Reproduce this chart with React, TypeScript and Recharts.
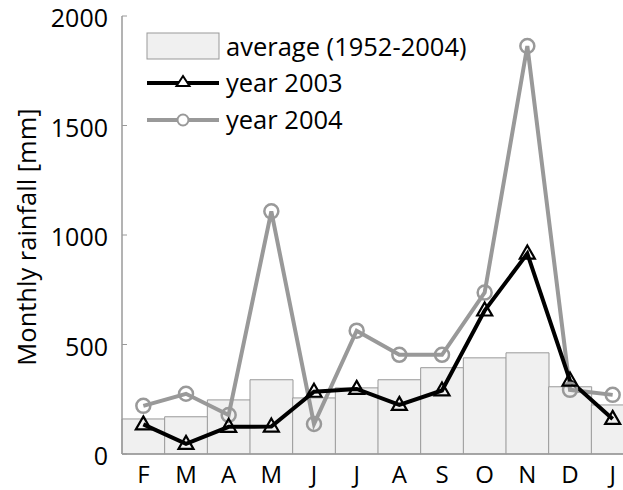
import React from 'react';
import { ComposedChart, Bar, Line, XAxis, YAxis } from 'recharts';

const months = ['F', 'M', 'A', 'M', 'J', 'J', 'A', 'S', 'O', 'N', 'D', 'J'];
const average = [160, 170, 247, 339, 256, 302, 339, 394, 439, 462, 307, 224];
const year2003 = [135, 46, 124, 125, 284, 297, 224, 290, 655, 915, 335, 160];
const year2004 = [220, 275, 178, 1108, 137, 563, 453, 453, 737, 1863, 293, 270];
const yTicks = [0, 500, 1000, 1500, 2000];
const seriesNames = ['average (1952-2004)', 'year 2003', 'year 2004'];
const yTitle = 'Monthly rainfall [mm]';

const data = months.map((m, i) => ({ m, avg: average[i], y03: year2003[i], y04: year2004[i] }));

const FONT = '"Open Sans", sans-serif';
const AXIS = '#9a9a9a';

const Triangle = (props: any) => {
  const { cx, cy } = props;
  if (cx == null || cy == null) return null;
  const h = 13, w = 15;
  return (
    <path
      d={`M${cx},${cy - h * 0.62} L${cx + w / 2},${cy + h * 0.38} L${cx - w / 2},${cy + h * 0.38} Z`}
      fill="none" stroke="#000" strokeWidth={2.2}
    />
  );
};

const Circ = (props: any) => {
  const { cx, cy } = props;
  if (cx == null || cy == null) return null;
  return <circle cx={cx} cy={cy} r={7} fill="none" stroke="#999" strokeWidth={2.5} />;
};

const YTick = (props: any) => {
  const { x, y, payload } = props;
  return (
    <g>
      <text x={x} y={y} dy={11} textAnchor="end" fontSize={25} fontFamily={FONT} fill="#000">
        {payload.value}
      </text>
      <line x1={x + 14} x2={x + 19} y1={y} y2={y} stroke={AXIS} strokeWidth={1} />
    </g>
  );
};

const XTick = (props: any) => {
  const { x, y, payload } = props;
  return (
    <text x={x} y={y} dy="0.71em" textAnchor="middle" fontSize={24} fontFamily={FONT} fill="#000">
      {payload.value}
    </text>
  );
};

const TopTick = (props: any) => {
  const { x, y } = props;
  return <line x1={x} x2={x} y1={y} y2={y + 5} stroke={AXIS} strokeWidth={1} />;
};

const YLabel = () => {
  const cx = 26;
  const cy = 237;
  return (
    <text
      x={cx} y={cy} transform={`rotate(-90 ${cx} ${cy})`} textAnchor="middle" dominantBaseline="central"
      fontSize={25.5} fontFamily={FONT} fill="#000"
    >
      {yTitle}
    </text>
  );
};

const LegendOverlay = () => (
  <svg width={623} height={490} style={{ position: 'absolute', left: 0, top: 0, pointerEvents: 'none' }}>
    <rect x={147} y={33} width={72} height={26} fill="#f0f0f0" stroke="#999" strokeWidth={1} />
    <text x={226} y={46} dominantBaseline="central" fontSize={25.5} fontFamily={FONT} fill="#000">{seriesNames[0]}</text>
    <line x1={147} x2={219} y1={83} y2={83} stroke="#000" strokeWidth={4} />
    <path d="M183,76 L189.5,86 L176.5,86 Z" fill="#fff" stroke="#000" strokeWidth={2} />
    <text x={226} y={82} dominantBaseline="central" fontSize={25.5} fontFamily={FONT} fill="#000">{seriesNames[1]}</text>
    <line x1={147} x2={219} y1={120} y2={120} stroke="#999" strokeWidth={4} />
    <circle cx={183} cy={120} r={5.5} fill="#fff" stroke="#999" strokeWidth={2} />
    <text x={226} y={119} dominantBaseline="central" fontSize={25.5} fontFamily={FONT} fill="#000">{seriesNames[2]}</text>
  </svg>
);

export default function App() {
  return (
    <div style={{ position: 'absolute', left: 0, top: 0, width: 623, height: 490, overflow: 'hidden', background: '#fff' }}>
      <div style={{ position: 'relative', width: 650, height: 490 }}>
        <ComposedChart
          width={650}
          height={490}
          data={data}
          margin={{ top: 16, right: 16, bottom: 0, left: 0 }}
          barCategoryGap={0}
          barGap={0}
        >
          <XAxis
            xAxisId="top"
            orientation="top"
            dataKey="m"
            height={0}
            axisLine={{ stroke: AXIS, strokeWidth: 1.5 }}
            tickLine={false}
            tick={<TopTick />}
            tickSize={0}
            tickMargin={0}
            interval={0}
          />
          <XAxis
            dataKey="m"
            height={36}
            axisLine={{ stroke: AXIS, strokeWidth: 1.5 }}
            tickLine={false}
            tick={<XTick />}
            tickSize={0}
            tickMargin={12}
            interval={0}
          />
          <YAxis
            width={122}
            domain={[0, 2000]}
            ticks={yTicks}
            interval={0}
            axisLine={{ stroke: AXIS, strokeWidth: 1.5 }}
            tickLine={false}
            tickSize={0}
            tickMargin={14}
            tick={<YTick />}
            label={<YLabel />}
          />
          <Bar dataKey="avg" fill="#f0f0f0" stroke="#999" strokeWidth={1} isAnimationActive={false} />
          <Line dataKey="y04" stroke="#999" strokeWidth={4} dot={<Circ />} activeDot={false} isAnimationActive={false} />
          <Line dataKey="y03" stroke="#000" strokeWidth={4} dot={<Triangle />} activeDot={false} isAnimationActive={false} />
        </ComposedChart>
        <LegendOverlay />
      </div>
    </div>
  );
}
